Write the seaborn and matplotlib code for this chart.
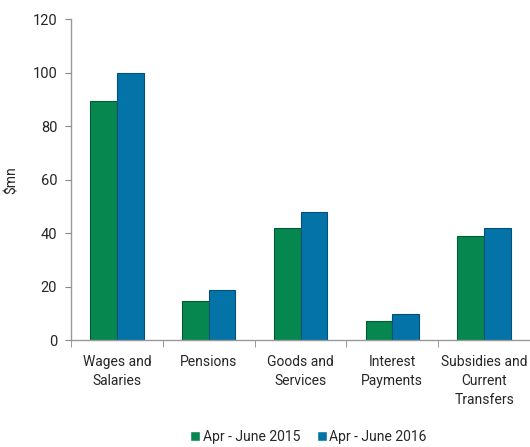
import matplotlib
matplotlib.use("Agg")
import matplotlib.pyplot as plt
import seaborn as sns
import pandas as pd
import numpy as np

categories = ["Wages and\nSalaries", "Pensions", "Goods and\nServices", "Interest\nPayments", "Subsidies and\nCurrent\nTransfers"]
series_names = ["Apr - June 2015", "Apr - June 2016"]
values_2015 = [89.5, 14.7, 41.8, 7.1, 38.9]
values_2016 = [100.0, 18.6, 47.9, 9.6, 42.0]
colors = ["#06874F", "#0473A8"]
edge_colors = ["#045a34", "#03507a"]

df = pd.DataFrame({
    "cat": categories * 2,
    "series": [series_names[0]] * 5 + [series_names[1]] * 5,
    "val": values_2015 + values_2016,
})

sns.set_style("white")
plt.rcParams['font.family'] = ['Roboto', 'DejaVu Sans']

fig = plt.figure(figsize=(5.30, 4.47), dpi=100)
ax = fig.add_axes([0.134, 0.239, 0.866, 0.718])
sns.barplot(data=df, x="cat", y="val", hue="series", palette=colors, width=0.58,
            ax=ax, saturation=1, legend=True)

for i, container in enumerate(ax.containers):
    for bar in container:
        bar.set_edgecolor(edge_colors[i])
        bar.set_linewidth(0.8)

ax.set_ylim(0, 120)
ax.set_xlim(-0.5, 4.5)
ax.set_yticks(np.arange(0, 121, 20))
ax.set_xlabel("")
ax.set_ylabel("$mn", fontsize=10, labelpad=10)
ax.tick_params(axis="y", labelsize=10.5, length=4, color="#888888", direction="out", left=True, pad=6)
ax.tick_params(axis="x", which="major", labelsize=10, length=0, pad=11)
for lbl in ax.get_xticklabels():
    lbl.set_linespacing(1.45)
ax.set_xticks(np.arange(-0.5, 5.0, 1.0), minor=True)
ax.tick_params(axis="x", which="minor", length=5, color="#888888", bottom=True)
for s in ["top", "right"]:
    ax.spines[s].set_visible(False)
for s in ["left", "bottom"]:
    ax.spines[s].set_color("#999999")
    ax.spines[s].set_linewidth(1.0)

ax.get_legend().remove()
handles, labels = ax.get_legend_handles_labels()
fig.legend(handles, labels, loc="center", bbox_to_anchor=(0.582, 0.022), ncol=2, frameon=False,
           fontsize=10, handlelength=0.7, handleheight=0.7, handletextpad=0.2,
           columnspacing=1.2, borderaxespad=0, borderpad=0)

fig.savefig("out.png", dpi=100)
